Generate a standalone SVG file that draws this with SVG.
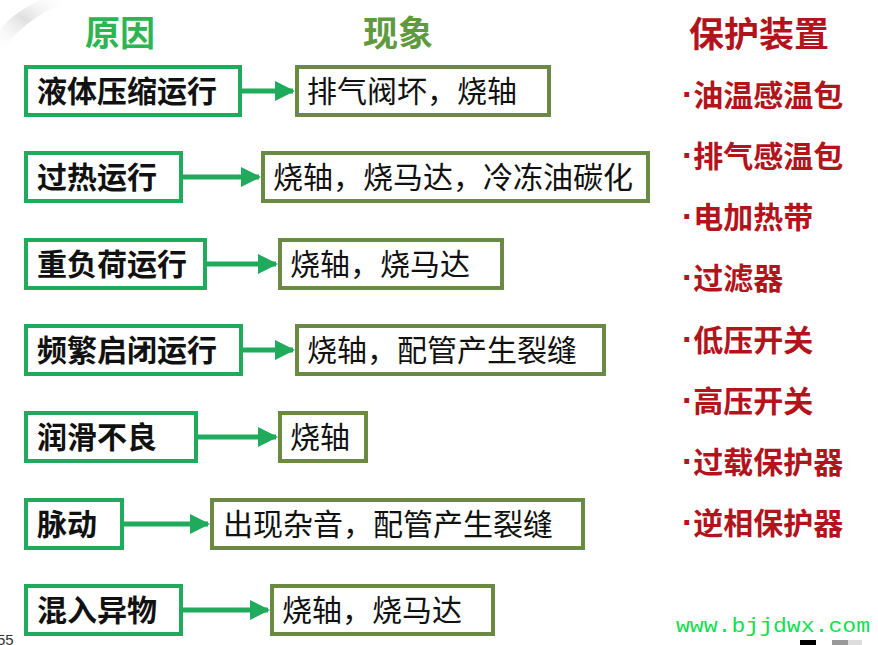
<svg xmlns="http://www.w3.org/2000/svg" width="878" height="645" viewBox="0 0 878 645">
<defs>
<linearGradient id="sw" x1="0" y1="1" x2="1" y2="0">
<stop offset="0" stop-color="#ffffff" stop-opacity="0"/>
<stop offset="0.5" stop-color="#d8d8d8" stop-opacity="0.8"/>
<stop offset="1" stop-color="#ffffff" stop-opacity="0"/>
</linearGradient>
<marker id="ah" viewBox="0 0 10 10" refX="9" refY="5" markerWidth="4" markerHeight="4" markerUnits="strokeWidth" orient="auto">
<path d="M0,0 L10,5 L0,10 z" fill="#1faa5c"/>
</marker>
<style>
.cause rect{fill:#fff;stroke:#1faa5c;stroke-width:4}
.eff rect{fill:#fff;stroke:#6a8a43;stroke-width:4}
.cause text{font-family:"Noto Sans CJK SC",sans-serif;font-weight:700;font-size:30px;fill:#111}
.eff text{font-family:"Noto Sans CJK SC",sans-serif;font-weight:400;font-size:30px;fill:#111}
.conn line{stroke:#1faa5c;stroke-width:5;marker-end:url(#ah)}
.dev{font-family:"Noto Sans CJK SC",sans-serif;font-weight:700;font-size:30px;fill:#b3141c}
.dev tspan.b{font-family:"Liberation Sans",sans-serif;font-weight:700;font-size:34px}
.hd{font-family:"Noto Sans CJK SC",sans-serif;font-weight:700;font-size:35px}
</style>
</defs>
<rect width="878" height="645" fill="#fff"/>
<path d="M0,55 Q20,20 70,0 L40,0 Q10,15 0,30 z" fill="url(#sw)"/>

<g id="headers">
<text class="hd" x="120" y="46" text-anchor="middle" fill="#2db552">原因</text>
<text class="hd" x="398" y="46" text-anchor="middle" fill="#5f9a3e">现象</text>
<text class="hd" x="759" y="47" text-anchor="middle" fill="#b3141c" font-size="38">保护装置</text>
</g>

<g id="c1" class="cause"><rect x="26" y="67" width="214" height="48"/><text x="37" y="102">液体压缩运行</text></g>
<g id="c2" class="cause"><rect x="26" y="153" width="155" height="48"/><text x="37" y="188">过热运行</text></g>
<g id="c3" class="cause"><rect x="26" y="240" width="179" height="48"/><text x="37" y="275">重负荷运行</text></g>
<g id="c4" class="cause"><rect x="26" y="326" width="215" height="48"/><text x="37" y="361">频繁启闭运行</text></g>
<g id="c5" class="cause"><rect x="26" y="413" width="170" height="48"/><text x="37" y="448">润滑不良</text></g>
<g id="c6" class="cause"><rect x="26" y="500" width="96" height="48"/><text x="37" y="535">脉动</text></g>
<g id="c7" class="cause"><rect x="26" y="586" width="155" height="48"/><text x="37" y="621">混入异物</text></g>

<g id="e1" class="eff"><rect x="297" y="67" width="252" height="48"/><text x="307" y="102">排气阀坏，烧轴</text></g>
<g id="e2" class="eff"><rect x="263" y="153" width="385" height="48"/><text x="273" y="188">烧轴，烧马达，冷冻油碳化</text></g>
<g id="e3" class="eff"><rect x="280" y="240" width="222" height="48"/><text x="290" y="275">烧轴，烧马达</text></g>
<g id="e4" class="eff"><rect x="297" y="326" width="307" height="48"/><text x="307" y="361">烧轴，配管产生裂缝</text></g>
<g id="e5" class="eff"><rect x="280" y="413" width="86" height="48"/><text x="290" y="448">烧轴</text></g>
<g id="e6" class="eff"><rect x="212" y="500" width="371" height="48"/><text x="223" y="535">出现杂音，配管产生裂缝</text></g>
<g id="e7" class="eff"><rect x="272" y="586" width="221" height="48"/><text x="282" y="621">烧轴，烧马达</text></g>

<g id="connectors" class="conn">
<line x1="242" y1="91" x2="293" y2="91"/>
<line x1="183" y1="177" x2="259" y2="177"/>
<line x1="207" y1="264" x2="276" y2="264"/>
<line x1="243" y1="350" x2="293" y2="350"/>
<line x1="198" y1="437" x2="276" y2="437"/>
<line x1="124" y1="524" x2="208" y2="524"/>
<line x1="183" y1="610" x2="268" y2="610"/>
</g>

<g id="devices">
<text class="dev" x="682" y="106"><tspan class="b">·</tspan>油温感温包</text>
<text class="dev" x="682" y="167"><tspan class="b">·</tspan>排气感温包</text>
<text class="dev" x="682" y="228"><tspan class="b">·</tspan>电加热带</text>
<text class="dev" x="682" y="289"><tspan class="b">·</tspan>过滤器</text>
<text class="dev" x="682" y="351"><tspan class="b">·</tspan>低压开关</text>
<text class="dev" x="682" y="412"><tspan class="b">·</tspan>高压开关</text>
<text class="dev" x="682" y="473"><tspan class="b">·</tspan>过载保护器</text>
<text class="dev" x="682" y="534"><tspan class="b">·</tspan>逆相保护器</text>
</g>

<text x="676" y="632" font-family="Liberation Mono, monospace" font-size="21" fill="#10e050" textLength="194" lengthAdjust="spacingAndGlyphs">www.bjjdwx.com</text>
<text x="-3" y="645" font-family="Liberation Sans, sans-serif" font-size="15" fill="#333">55</text>
<rect x="800" y="640" width="16" height="5" fill="#000"/>
<rect x="832" y="640" width="16" height="5" fill="#999"/>
<rect x="848" y="640" width="14" height="5" fill="#ddd"/>
</svg>
